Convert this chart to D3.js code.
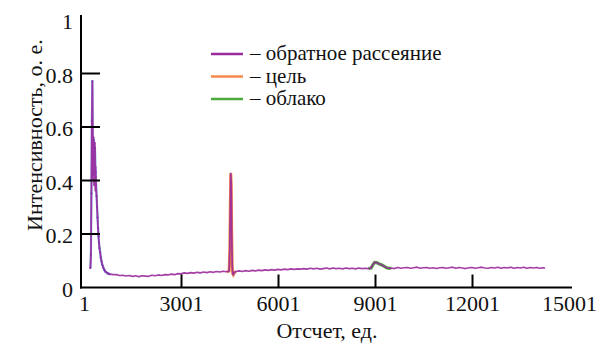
<!DOCTYPE html>
<html><head><meta charset="utf-8">
<script src="https://cdn.jsdelivr.net/npm/d3@7"></script>
<style>
html,body{margin:0;padding:0;background:#fff;}
svg{display:block;}
svg text{fill:#111;}
</style></head>
<body>
<svg id="chart" width="602" height="343"></svg>
<script>
// ---- data ----
const xTickLabels = [1, 3001, 6001, 9001, 12001, 15001];
const yTickLabels = [0, 0.2, 0.4, 0.6, 0.8, 1];
const seriesNames = ["обратное рассеяние", "цель", "облако"];
const seriesColors = ["#9a2a9c", "#f4894a", "#4caa3c"];

const backX = [180,200,215,230,245,260,270,280,290,300,310,320,330,340,350,360,375,390,405,420,435,450,465,480,500,520,545,570,600,630,660,700,750,800,850,900,
1000,1100,1200,1300,1400,1500,1600,1700,1800,1900,
2000,2100,2200,2300,2400,2500,2600,2700,2800,2900,
3000,3100,3200,3300,3400,3500,3600,3700,3800,3900,
4000,4100,4200,4300,4400,4450,4490,4510,4525,4540,4555,4570,4585,4600,4620,4650,4700,4800,4900,
5000,5100,5200,5300,5400,5500,5600,5700,5800,5900,
6000,6100,6200,6300,6400,6500,6600,6700,6800,6900,
7000,7100,7200,7300,7400,7500,7600,7700,7800,7900,
8000,8100,8200,8300,8400,8500,8600,8700,8800,8880,8940,8990,9050,9120,9200,9280,9360,9440,
9500,9600,9700,9800,9900,
10000,10100,10200,10300,10400,10500,10600,10700,10800,10900,
11000,11100,11200,11300,11400,11500,11600,11700,11800,11900,
12000,12100,12200,12300,12400,12500,12600,12700,12800,12900,
13000,13100,13200,13300,13400,13500,13600,13700,13800,13900,
14000,14100,14200,14260];
const backY = [0.068,0.072,0.12,0.35,0.62,0.77,0.60,0.40,0.52,0.56,0.38,0.50,0.42,0.54,0.36,0.45,0.37,0.34,0.30,0.26,0.22,0.19,0.165,0.145,0.13,0.11,0.095,0.082,0.072,0.064,0.058,0.054,0.050,0.048,0.047,0.046,
0.046,0.043,0.044,0.041,0.043,0.040,0.042,0.039,0.042,0.041,
0.040,0.044,0.042,0.045,0.043,0.046,0.045,0.048,0.046,0.050,
0.049,0.053,0.051,0.054,0.052,0.055,0.053,0.056,0.054,0.057,
0.055,0.058,0.056,0.059,0.057,0.058,0.060,0.14,0.30,0.425,0.38,0.20,0.08,0.050,0.046,0.054,0.058,0.060,0.058,
0.061,0.059,0.062,0.060,0.063,0.061,0.064,0.062,0.065,0.063,
0.066,0.064,0.067,0.065,0.068,0.066,0.068,0.067,0.069,0.067,
0.070,0.068,0.070,0.067,0.069,0.071,0.068,0.071,0.069,0.070,
0.068,0.071,0.069,0.070,0.068,0.071,0.069,0.070,0.069,0.071,0.084,0.092,0.091,0.087,0.083,0.078,0.072,0.070,
0.071,0.069,0.073,0.070,0.072,
0.073,0.070,0.072,0.074,0.070,0.072,0.073,0.070,0.072,0.069,
0.072,0.073,0.070,0.072,0.074,0.070,0.073,0.071,0.069,0.072,
0.073,0.070,0.072,0.074,0.071,0.070,0.073,0.071,0.074,0.070,
0.073,0.071,0.074,0.070,0.073,0.071,0.074,0.070,0.073,0.071,
0.073,0.070,0.072,0.071];

const targetX = [4420,4450,4490,4510,4525,4540,4555,4570,4585,4600,4620,4650,4700];
const targetY = [0.057,0.058,0.060,0.14,0.30,0.425,0.38,0.20,0.08,0.050,0.046,0.054,0.058];

const cloudX = [8800,8880,8940,8990,9050,9120,9200,9280,9360,9440,9500];
const cloudY = [0.069,0.071,0.084,0.092,0.091,0.087,0.083,0.078,0.072,0.070,0.071];

// near-field fit overlay (blue)
const nearX = [200,215,230,245,260,270,280,300,320,340,360,375,390,405,420,435,450,465,480,500,520,545,570,600,630,660,700,750,800];
const nearY = [0.072,0.12,0.35,0.62,0.77,0.60,0.42,0.55,0.48,0.52,0.43,0.38,0.34,0.30,0.26,0.22,0.19,0.165,0.145,0.13,0.11,0.095,0.082,0.072,0.064,0.058,0.054,0.050,0.048];

// ---- drawing ----
const FONT = "'Liberation Serif','Times New Roman',Times,Tinos,'Nimbus Roman','Nimbus Roman No9 L','FreeSerif','DejaVu Serif','Noto Serif','Noto Serif CJK SC',serif";
const svg = d3.select("#chart");
const x = d3.scaleLinear().domain([1, 15001]).range([84, 569]);
const y = d3.scaleLinear().domain([0, 1]).range([287, 19.5]);

const line = d3.line().x(d => x(d[0])).y(d => y(d[1]));
const zip = (a, b) => a.map((v, i) => [v, b[i]]);

const plot = svg.append("g");
plot.append("path").datum(zip(nearX, nearY)).attr("d", line)
  .attr("fill", "none").attr("stroke", "#4a6fd6").attr("stroke-width", 2.2).attr("opacity", 0.7);
plot.selectAll("circle.nf").data(zip(nearX, nearY)).join("circle").attr("class","nf")
  .attr("cx", d => x(d[0])).attr("cy", d => y(d[1])).attr("r", 1.1).attr("fill", "#3a5fd0");
plot.append("path").datum(zip(targetX, targetY)).attr("d", line)
  .attr("fill", "none").attr("stroke", seriesColors[1]).attr("stroke-width", 3);
plot.append("path").datum(zip(cloudX, cloudY)).attr("d", line)
  .attr("fill", "none").attr("stroke", seriesColors[2]).attr("stroke-width", 3.2);
plot.append("path").datum(zip(backX, backY)).attr("d", line)
  .attr("fill", "none").attr("stroke", seriesColors[0]).attr("stroke-width", 1.7)
  .attr("stroke-linejoin", "round").attr("opacity", 0.9);

// axes
const fmt = d => d === 0 ? "0" : d === 1 ? "1" : d3.format(".1f")(d);
const yAxis = svg.append("g").attr("transform", "translate(81,0)")
  .call(d3.axisLeft(y).tickValues(yTickLabels).tickSize(0).tickPadding(8).tickFormat(fmt));
yAxis.attr("font-family", FONT);
yAxis.select(".domain").remove();
yAxis.selectAll("text").attr("font-size", 22).attr("dy", "0.43em")
  .style("font-family", FONT).attr("fill", "#111");

const yTicks = svg.append("g").attr("transform", "translate(81,0)")
  .call(d3.axisLeft(y).tickValues(yTickLabels.slice(1, -1)).tickSize(-19).tickFormat(""));
yTicks.select(".domain").remove();
yTicks.selectAll("line").attr("stroke", "#000").attr("stroke-width", 2);

const xAxis = svg.append("g").attr("transform", "translate(0,287.5)")
  .call(d3.axisBottom(x).tickValues(xTickLabels).tickSize(0).tickPadding(8).tickFormat(d3.format("d")));
xAxis.attr("font-family", FONT);
xAxis.select(".domain").remove();
xAxis.selectAll("text").attr("font-size", 22).attr("dy", "0.71em")
  .style("font-family", FONT).attr("fill", "#111");

const xTicks = svg.append("g").attr("transform", "translate(0,287.5)")
  .call(d3.axisBottom(x).tickValues(xTickLabels.slice(1, -1)).tickSize(-13).tickFormat(""));
xTicks.select(".domain").remove();
xTicks.selectAll("line").attr("stroke", "#000").attr("stroke-width", 2);

svg.append("line").attr("x1", 81).attr("x2", 81).attr("y1", 15).attr("y2", 288.5)
  .attr("stroke", "#000").attr("stroke-width", 2);
svg.append("line").attr("x1", 80).attr("x2", 572).attr("y1", 287.5).attr("y2", 287.5)
  .attr("stroke", "#000").attr("stroke-width", 2);

// titles
svg.append("text").attr("x", 327).attr("y", 338).attr("text-anchor", "middle")
  .attr("font-size", 22).style("font-family", FONT).text("Отсчет, ед.");
svg.append("text").attr("transform", "translate(42,135) rotate(-90)").attr("text-anchor", "middle")
  .attr("font-size", 22).style("font-family", FONT).text("Интенсивность, о. е.");

// legend
const legend = svg.append("g");
seriesNames.forEach((name, i) => {
  const ly = 54 + i * 22.5;
  legend.append("line").attr("x1", 211).attr("x2", 243).attr("y1", ly).attr("y2", ly)
    .attr("stroke", seriesColors[i]).attr("stroke-width", 2.5);
  legend.append("text").attr("x", 250).attr("y", ly + 6).attr("font-size", 21)
    .style("font-family", FONT).text("– " + name);
});
</script>
</body></html>
